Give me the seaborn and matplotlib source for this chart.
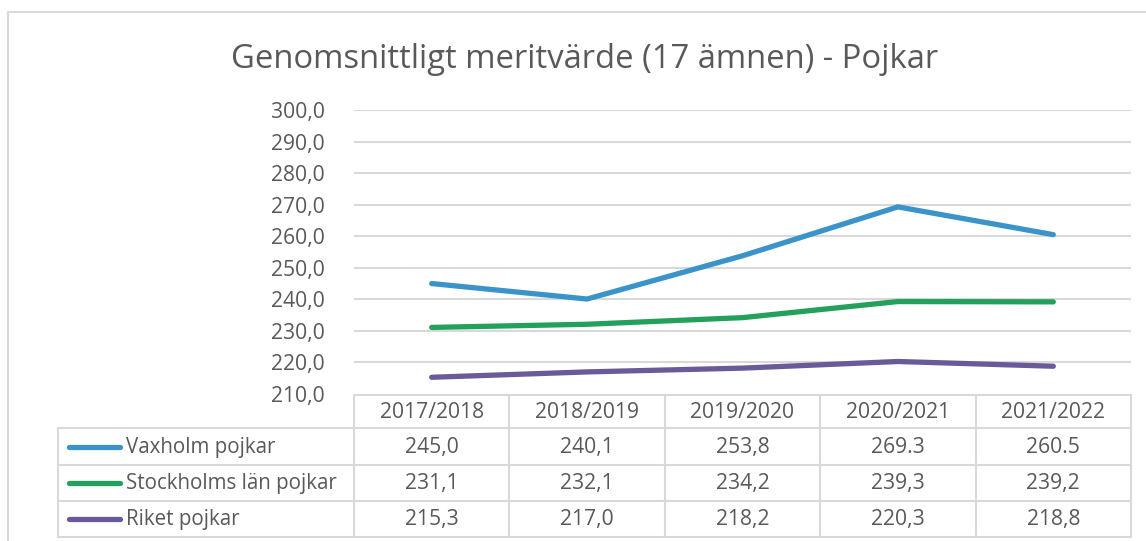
import pandas as pd
import matplotlib
matplotlib.use("Agg")
import matplotlib.pyplot as plt
import seaborn as sns

# Data
years = ["2017/2018", "2018/2019", "2019/2020", "2020/2021", "2021/2022"]
series_names = ["Vaxholm pojkar", "Stockholms län pojkar", "Riket pojkar"]
vaxholm = [245.0, 240.1, 253.8, 269.3, 260.5]
stockholm = [231.1, 232.1, 234.2, 239.3, 239.2]
riket = [215.3, 217.0, 218.2, 220.3, 218.8]
# texts as shown in the data table
vaxholm_text = ["245,0", "240,1", "253,8", "269.3", "260.5"]
stockholm_text = ["231,1", "232,1", "234,2", "239,3", "239,2"]
riket_text = ["215,3", "217,0", "218,2", "220,3", "218,8"]
colors = ["#3A93C9", "#22A05C", "#6A5A99"]
y_ticks = [210, 220, 230, 240, 250, 260, 270, 280, 290, 300]

sns.set_theme(style="white")
plt.rcParams["font.family"] = ["Open Sans", "DejaVu Sans"]
txt = "#595959"
grid = "#D9D9D9"
fs = 15.2

df = pd.DataFrame({
    "year": years * 3,
    "pos": list(range(len(years))) * 3,
    "value": vaxholm + stockholm + riket,
    "series": [s for s in series_names for _ in years],
})

W, H = 1146, 541
fig = plt.figure(figsize=(W / 100, H / 100), dpi=100)

# overlay in pixel coordinates for frame and table
frame = fig.add_axes([0, 0, 1, 1], zorder=0)
frame.set_xlim(0, W)
frame.set_ylim(H, 0)
frame.axis("off")

# chart border (left + top visible)
frame.plot([8, 8, W], [H, 12, 12], color=grid, lw=1.5)

# plot area
x0, x1, ytop, ybot = 354, 1131, 110, 394
ax = fig.add_axes([x0 / W, 1 - ybot / H, (x1 - x0) / W, (ybot - ytop) / H], zorder=1)
ax.patch.set_alpha(0)
sns.lineplot(data=df, x="pos", y="value", hue="series", palette=colors,
             hue_order=series_names, lw=3.8, legend=False, ax=ax,
             solid_capstyle="round", solid_joinstyle="round")
ax.set_xlim(-0.5, len(years) - 0.5)
ax.set_ylim(210, 300)
ax.set_yticks(y_ticks)
ax.set_yticklabels([f"{v:.1f}".replace(".", ",") for v in y_ticks], fontsize=fs, color=txt)
ax.tick_params(axis="y", length=0, pad=21)
ax.set_xticks([])
ax.set_xlabel("")
ax.set_ylabel("")
for v in y_ticks[1:]:
    ax.axhline(v, color=grid, lw=1.5, zorder=0)
for s in ax.spines.values():
    s.set_visible(False)

# title
fig.text(585 / W, 1 - 59 / H, "Genomsnittligt meritvärde (17 ämnen) - Pojkar",
         ha="center", va="center", fontsize=23.6, color=txt)

# data table
col_edges = [x0 + i * (x1 - x0) / len(years) for i in range(len(years) + 1)]
row_edges = [395, 428, 465, 501, 537]
tbl_left = 58
lc = "#D9D9D9"
frame.plot([x0, x1], [row_edges[0], row_edges[0]], color=lc, lw=1.5)
for r in row_edges[1:]:
    frame.plot([tbl_left, x1], [r, r], color=lc, lw=1.5)
frame.plot([tbl_left, tbl_left], [row_edges[1], row_edges[-1]], color=lc, lw=1.5)
for c in col_edges:
    frame.plot([c, c], [row_edges[0], row_edges[-1]], color=lc, lw=1.5)

for i, yr in enumerate(years):
    cx = (col_edges[i] + col_edges[i + 1]) / 2
    frame.text(cx, (row_edges[0] + row_edges[1]) / 2 + 1, yr, ha="center", va="center",
               fontsize=fs, color=txt)

for r, (name, labels, col) in enumerate(zip(series_names,
                                            [vaxholm_text, stockholm_text, riket_text],
                                            colors)):
    cy = (row_edges[r + 1] + row_edges[r + 2]) / 2
    frame.plot([69, 120], [cy, cy], color=col, lw=3.8, solid_capstyle="round")
    frame.text(126, cy + 1, name, ha="left", va="center", fontsize=fs - 0.4, color=txt)
    for i, lab in enumerate(labels):
        cx = (col_edges[i] + col_edges[i + 1]) / 2
        frame.text(cx, cy + 1, lab, ha="center", va="center", fontsize=fs, color=txt)

fig.savefig("out.png", dpi=100)
